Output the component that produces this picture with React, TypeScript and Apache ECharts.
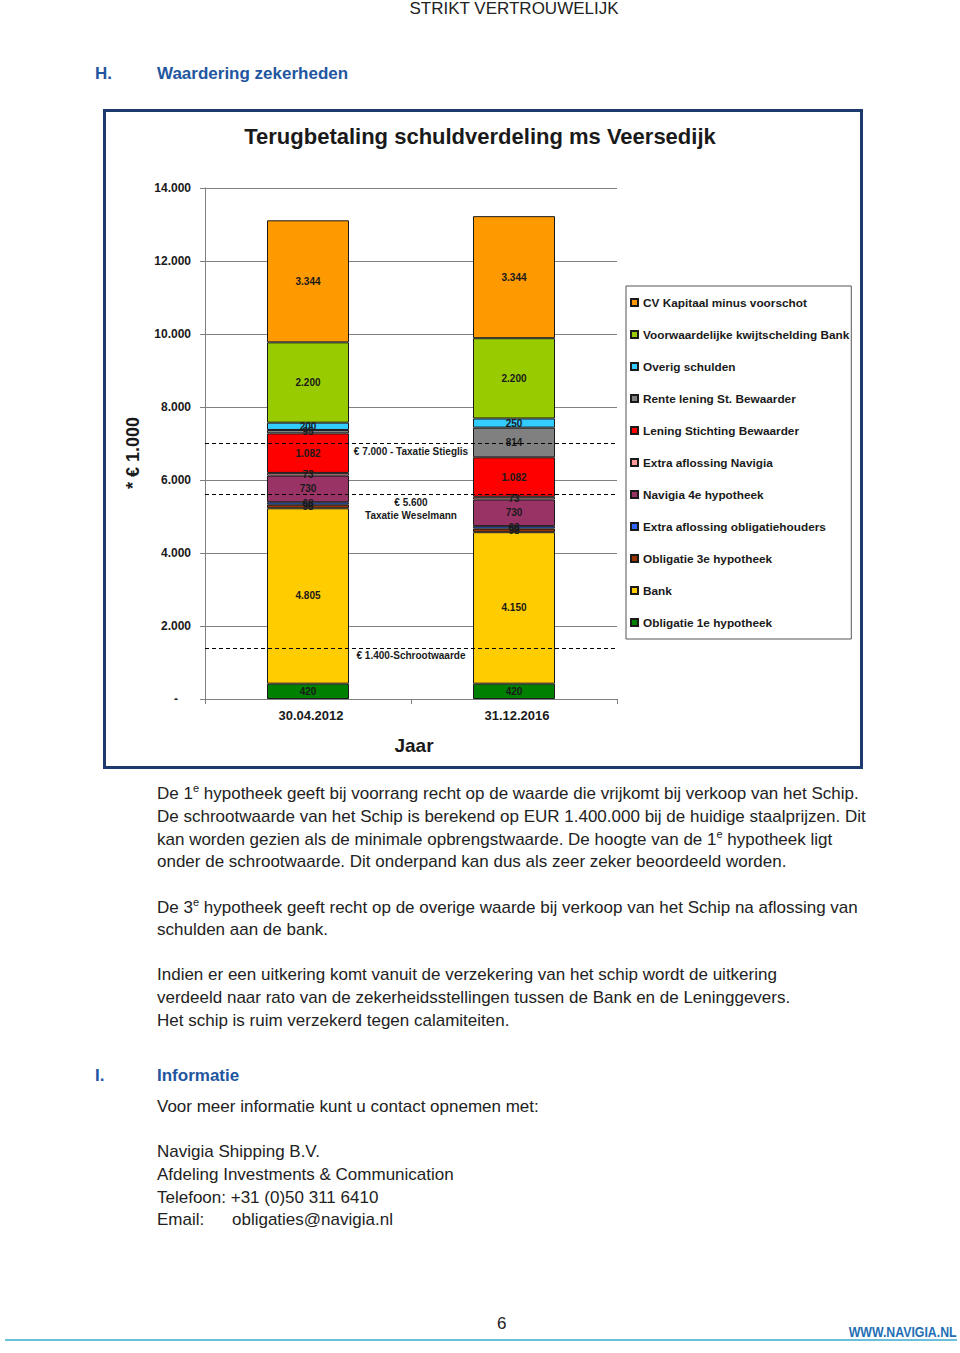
import React, { useEffect, useRef } from "react";
import * as echarts from "echarts";

const categories = ["30.04.2012", "31.12.2016"];
const oblig1 = [420, 420];
const bank = [4805, 4150];
const oblig3 = [98, 98];
const extraObl = [68, 68];
const navigia4 = [730, 730];
const extraNav = [73, 73];
const leningSB = [1082, 1082];
const renteSB = [95, 814];
const overig = [200, 250];
const voorw = [2200, 2200];
const cvKap = [3344, 3344];

const yTicks = { min: 0, max: 14000, interval: 2000 };
const refLines = [
  { value: 7000, text: "€ 7.000 - Taxatie Stieglis" },
  { value: 5600, text: "€ 5.600\nTaxatie Weselmann" },
  { value: 1400, text: "€ 1.400-Schrootwaarde" },
];

const seriesDefs = [
  { name: "Obligatie 1e hypotheek", data: oblig1, color: "#008000" },
  { name: "Bank", data: bank, color: "#FFCC00" },
  { name: "Obligatie 3e hypotheek", data: oblig3, color: "#993300" },
  { name: "Extra aflossing obligatiehouders", data: extraObl, color: "#3366FF" },
  { name: "Navigia 4e hypotheek", data: navigia4, color: "#993366" },
  { name: "Extra aflossing Navigia", data: extraNav, color: "#FF9999" },
  { name: "Lening Stichting Bewaarder", data: leningSB, color: "#FF0000" },
  { name: "Rente lening St. Bewaarder", data: renteSB, color: "#808080" },
  { name: "Overig schulden", data: overig, color: "#33CCFF" },
  { name: "Voorwaardelijke kwijtschelding Bank", data: voorw, color: "#99CC00" },
  { name: "CV Kapitaal minus voorschot", data: cvKap, color: "#FF9900" },
];

const FONT = '"Liberation Sans", Arial, sans-serif';
const BLUE = "#2356a0";
const TXT = "#222";

const fmt = (v: number) => String(v).replace(/\B(?=(\d{3})+(?!\d))/g, ".");

function Line({ x, cy, children, style }: any) {
  return (
    <div
      style={{
        position: "absolute",
        left: x,
        top: cy - 10,
        lineHeight: "20px",
        fontSize: 17,
        whiteSpace: "nowrap",
        ...style,
      }}
    >
      {children}
    </div>
  );
}

const Sup = ({ children }: any) => (
  <span style={{ fontSize: 11, position: "relative", top: -7 }}>{children}</span>
);

export default function App() {
  const ref = useRef<HTMLDivElement>(null);

  useEffect(() => {
    if (!ref.current) return;
    const chart = echarts.init(ref.current, undefined, { renderer: "svg" });
    const series: any[] = seriesDefs.map((s, i) => ({
      name: s.name,
      type: "bar",
      stack: "total",
      barWidth: 82,
      data: s.data,
      itemStyle: { color: s.color, borderColor: "#1a1a1a", borderWidth: 1 },
      label: {
        show: true,
        position: "inside",
        formatter: (p: any) => fmt(p.value),
        fontSize: 10,
        fontWeight: "bold",
        color: "#1a1a1a",
        fontFamily: FONT,
      },
      ...(i === 0
        ? {
            markLine: {
              symbol: "none",
              silent: true,
              z: 10,
              lineStyle: { type: [4, 3], color: "#000", width: 1 },
              label: {
                position: "insideMiddleBottom",
                distance: 1,
                fontSize: 10,
                fontWeight: "bold",
                color: "#1a1a1a",
                fontFamily: FONT,
                lineHeight: 13,
                align: "center",
              },
              data: refLines.map((r) => ({
                yAxis: r.value,
                label: { formatter: r.text },
              })),
            },
          }
        : {}),
    }));

    const option: any = {
      animation: false,
      backgroundColor: "#fff",
      textStyle: { fontFamily: FONT },
      grid: { left: 105, top: 88, width: 412, height: 511 },
      xAxis: {
        type: "category",
        data: categories,
        axisLine: { show: true, lineStyle: { color: "#808080", width: 1 } },
        axisTick: { show: true, length: 5, lineStyle: { color: "#808080" } },
        axisLabel: {
          fontSize: 13,
          fontWeight: "bold",
          color: "#1a1a1a",
          margin: 10,
          fontFamily: FONT,
          padding: [0, 0, 0, 6],
        },
        name: "Jaar",
        nameLocation: "middle",
        nameGap: 37,
        nameTextStyle: {
          fontSize: 19,
          fontWeight: "bold",
          color: "#1a1a1a",
          fontFamily: FONT,
          padding: [0, 0, 0, 6],
        },
      },
      yAxis: {
        type: "value",
        min: yTicks.min,
        max: yTicks.max,
        interval: yTicks.interval,
        axisLine: { show: true, lineStyle: { color: "#808080", width: 1 } },
        axisTick: { show: true, length: 5, lineStyle: { color: "#808080" } },
        splitLine: { show: true, lineStyle: { color: "#808080", width: 1 } },
        axisLabel: {
          fontSize: 12,
          fontWeight: "bold",
          color: "#1a1a1a",
          margin: 14,
          fontFamily: FONT,
          formatter: (v: number) => (v === 0 ? "{d|-}" : fmt(v)),
          rich: {
            d: { fontSize: 12, fontWeight: "bold", color: "#1a1a1a", padding: [0, 13, 0, 0] },
          },
        },
      },
      legend: {
        orient: "vertical",
        left: 526,
        top: 186,
        itemWidth: 7,
        itemHeight: 7,
        itemGap: 19,
        padding: [10, 2, 10, 4],
        borderColor: "#555",
        borderWidth: 1,
        icon: "rect",
        selectedMode: false,
        textStyle: {
          fontSize: 11.8,
          fontWeight: "bold",
          color: "#1a1a1a",
          lineHeight: 13,
          fontFamily: FONT,
        },
        data: seriesDefs.map((s) => s.name).reverse(),
      },
      graphic: [
        {
          type: "rect",
          shape: { x: 4.5, y: 10.5, width: 757, height: 657 },
          style: { fill: "none", stroke: "#1c3a6e", lineWidth: 3 },
          silent: true,
        },
        {
          type: "text",
          x: 380,
          y: 36,
          style: {
            text: "Terugbetaling schuldverdeling ms Veersedijk",
            fontSize: 22,
            fontWeight: "bold",
            fontFamily: FONT,
            fill: "#1a1a1a",
            align: "center",
            verticalAlign: "middle",
          },
        },
        {
          type: "text",
          x: 33,
          y: 353,
          rotation: Math.PI / 2,
          style: {
            text: "* € 1.000",
            fontSize: 18,
            fontWeight: "bold",
            fontFamily: FONT,
            fill: "#1a1a1a",
            align: "center",
            verticalAlign: "middle",
          },
        },
      ],
      series,
    };
    chart.setOption(option);
    return () => chart.dispose();
  }, []);

  return (
    <div
      style={{
        position: "absolute",
        left: 0,
        top: 0,
        width: 960,
        height: 1353,
        background: "#fff",
        fontFamily: FONT,
        color: TXT,
        overflow: "hidden",
      }}
    >
      <div
        style={{
          position: "absolute",
          left: 514,
          top: 0,
          transform: "translateX(-50%)",
          fontSize: 17,
          lineHeight: "17px",
          whiteSpace: "nowrap",
        }}
      >
        STRIKT VERTROUWELIJK
      </div>

      <Line x={95} cy={74} style={{ color: BLUE, fontWeight: "bold" }}>H.</Line>
      <Line x={157} cy={74} style={{ color: BLUE, fontWeight: "bold" }}>Waardering zekerheden</Line>

      <div ref={ref} style={{ position: "absolute", left: 100, top: 100, width: 770, height: 680 }} />

      <Line x={157} cy={794}>
        De 1<Sup>e</Sup> hypotheek geeft bij voorrang recht op de waarde die vrijkomt bij verkoop van het Schip.
      </Line>
      <Line x={157} cy={817}>
        De schrootwaarde van het Schip is berekend op EUR 1.400.000 bij de huidige staalprijzen. Dit
      </Line>
      <Line x={157} cy={840}>
        kan worden gezien als de minimale opbrengstwaarde. De hoogte van de 1<Sup>e</Sup> hypotheek ligt
      </Line>
      <Line x={157} cy={862}>
        onder de schrootwaarde. Dit onderpand kan dus als zeer zeker beoordeeld worden.
      </Line>

      <Line x={157} cy={908}>
        De 3<Sup>e</Sup> hypotheek geeft recht op de overige waarde bij verkoop van het Schip na aflossing van
      </Line>
      <Line x={157} cy={930}>schulden aan de bank.</Line>

      <Line x={157} cy={975}>
        Indien er een uitkering komt vanuit de verzekering van het schip wordt de uitkering
      </Line>
      <Line x={157} cy={998}>
        verdeeld naar rato van de zekerheidsstellingen tussen de Bank en de Leninggevers.
      </Line>
      <Line x={157} cy={1021}>Het schip is ruim verzekerd tegen calamiteiten.</Line>

      <Line x={95} cy={1076} style={{ color: BLUE, fontWeight: "bold" }}>I.</Line>
      <Line x={157} cy={1076} style={{ color: BLUE, fontWeight: "bold" }}>Informatie</Line>
      <Line x={157} cy={1107}>Voor meer informatie kunt u contact opnemen met:</Line>

      <Line x={157} cy={1152}>Navigia Shipping B.V.</Line>
      <Line x={157} cy={1175}>Afdeling Investments &amp; Communication</Line>
      <Line x={157} cy={1198}>Telefoon: +31 (0)50 311 6410</Line>
      <Line x={157} cy={1220}>Email:</Line>
      <Line x={232} cy={1220}>obligaties@navigia.nl</Line>

      <Line x={497} cy={1324}>6</Line>
      <div
        style={{
          position: "absolute",
          right: 3,
          top: 1325,
          fontSize: 14,
          lineHeight: "15px",
          fontWeight: "bold",
          color: "#1f6fb5",
          fontFamily: FONT,
          whiteSpace: "nowrap",
          transform: "scaleX(0.88)",
          transformOrigin: "right center",
        }}
      >
        WWW.NAVIGIA.NL
      </div>
      <div
        style={{
          position: "absolute",
          left: 5,
          top: 1339,
          width: 952,
          height: 2,
          background: "#6cc0dc",
        }}
      />
    </div>
  );
}
